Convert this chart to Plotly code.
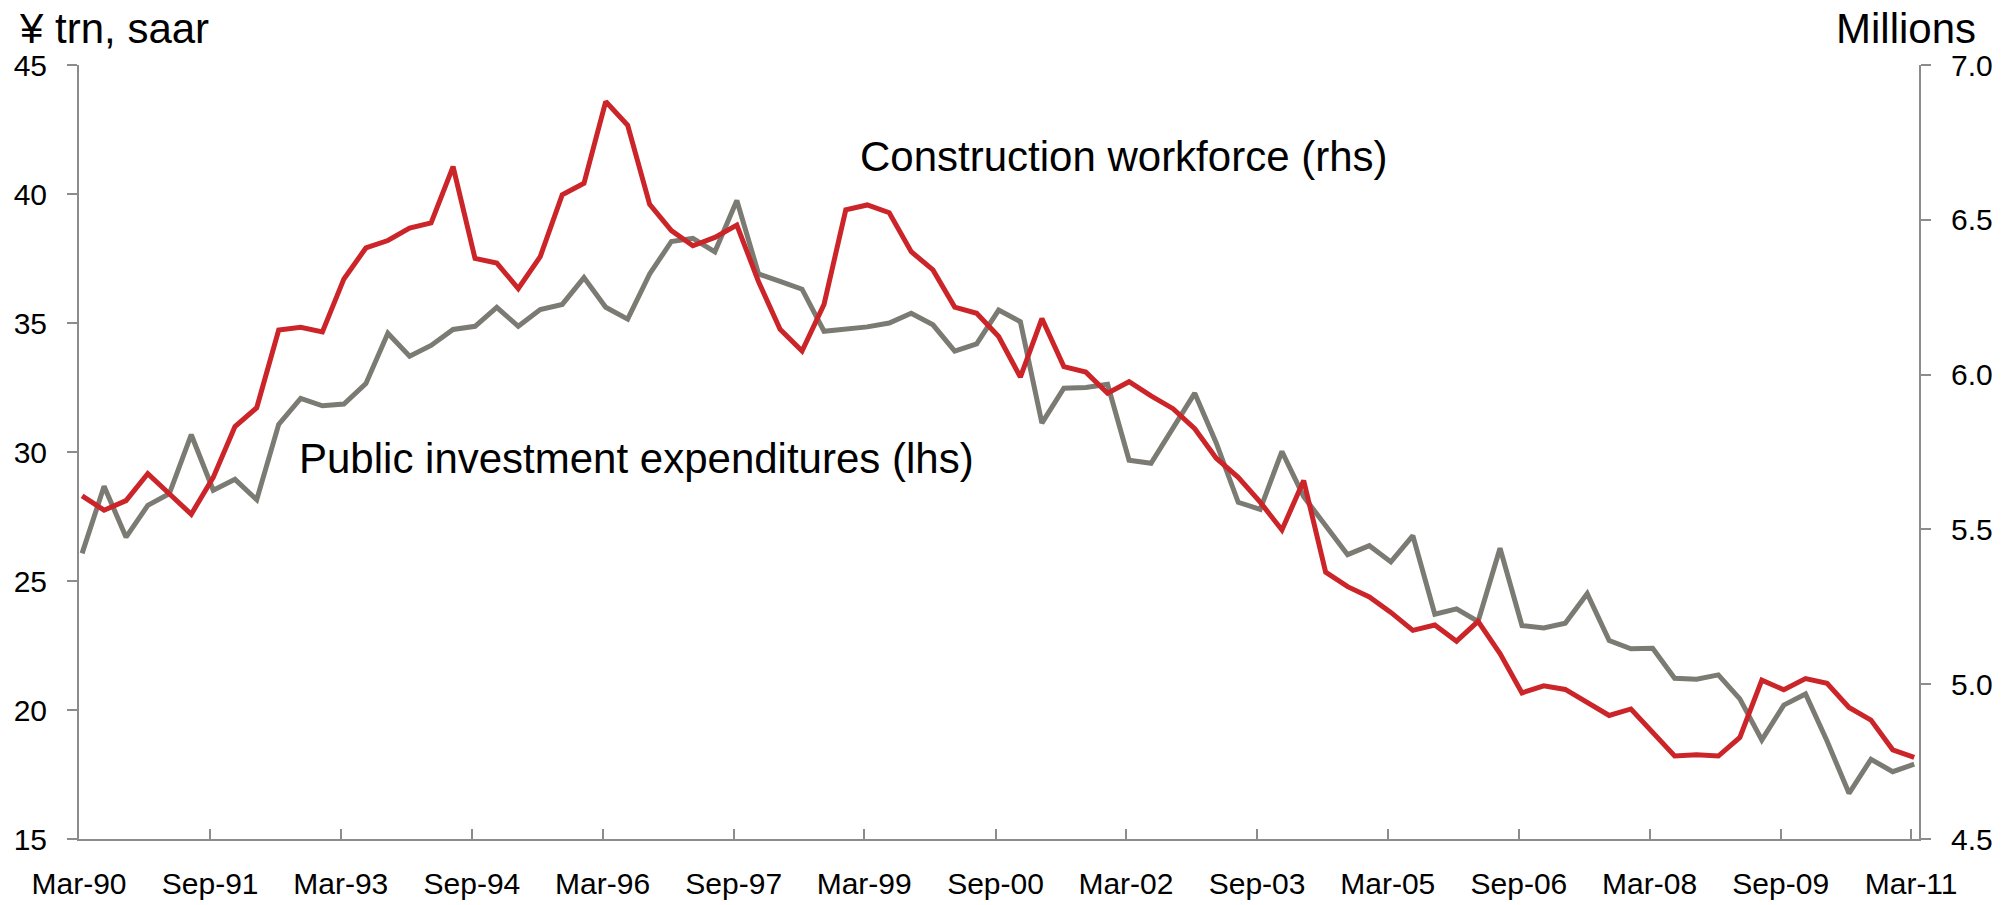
import pandas as pd
import plotly.graph_objects as go

# Quarterly dates, Mar-90 .. Mar-11
quarter_start = "1990-03-01"
n_quarters = 85

# Public investment expenditures, yen trillion saar (lhs)
public_investment = [
    26.07, 28.67, 26.70, 27.93, 28.38, 30.67, 28.52, 28.94, 28.15, 31.07,
    32.08, 31.79, 31.86, 32.65, 34.60, 33.71, 34.13, 34.75, 34.87, 35.61,
    34.87, 35.52, 35.72, 36.76, 35.61, 35.15, 36.90, 38.16, 38.28, 37.76,
    39.75, 36.90, 36.61, 36.31, 34.68, 34.78, 34.85, 35.00, 35.38, 34.93,
    33.91, 34.19, 35.50, 35.05, 31.12, 32.47, 32.50, 32.62, 29.68, 29.56,
    30.90, 32.28, 30.35, 28.05, 27.78, 30.02, 28.27, 27.13, 26.02, 26.37,
    25.74, 26.76, 23.71, 23.92, 23.43, 26.27, 23.27, 23.18, 23.36, 24.51,
    22.69, 22.37, 22.39, 21.23, 21.19, 21.36, 20.43, 18.84, 20.19, 20.62,
    18.80, 16.77, 18.09, 17.61, 17.90,
]

# Construction workforce, millions (rhs)
construction_workforce = [
    5.608, 5.562, 5.593, 5.680, 5.615, 5.549, 5.668, 5.832, 5.893, 6.144,
    6.153, 6.138, 6.309, 6.409, 6.433, 6.473, 6.490, 6.672, 6.375, 6.360,
    6.278, 6.381, 6.581, 6.618, 6.882, 6.805, 6.550, 6.465, 6.416, 6.443,
    6.483, 6.300, 6.146, 6.076, 6.227, 6.532, 6.548, 6.523, 6.397, 6.338,
    6.218, 6.198, 6.123, 5.992, 6.181, 6.026, 6.008, 5.940, 5.977, 5.931,
    5.890, 5.825, 5.730, 5.668, 5.588, 5.498, 5.658, 5.362, 5.315, 5.282,
    5.232, 5.174, 5.191, 5.139, 5.203, 5.099, 4.972, 4.995, 4.983, 4.943,
    4.899, 4.920, 4.847, 4.768, 4.772, 4.768, 4.828, 5.013, 4.982, 5.018,
    5.003, 4.925, 4.884, 4.788, 4.764,
]

tick_every_months = 18

dates = pd.date_range(quarter_start, periods=n_quarters, freq="3MS") + pd.Timedelta(days=13)
tick_dates = pd.date_range(quarter_start, "2011-03-01", freq=f"{tick_every_months}MS")
tick_labels = [d.strftime("%b-%y") for d in tick_dates]

RED = "#CC2529"
GREY = "#7B7B73"
AXIS = "#8C8C8C"
FONT = "Liberation Sans, Arial, sans-serif"

fig = go.Figure()
fig.add_trace(go.Scatter(
    x=dates, y=public_investment, mode="lines", yaxis="y",
    line=dict(color=GREY, width=5), name="Public investment expenditures (lhs)",
))
fig.add_trace(go.Scatter(
    x=dates, y=construction_workforce, mode="lines", yaxis="y2",
    line=dict(color=RED, width=5), name="Construction workforce (rhs)",
))

common_axis = dict(
    tickwidth=2, tickcolor=AXIS, ticklen=10,
    showline=True, linecolor=AXIS, linewidth=2,
    showgrid=False, zeroline=False, automargin=False,
    tickfont=dict(size=30),
)

fig.update_layout(
    width=2014, height=905,
    margin=dict(l=79, r=95, t=65, b=66, autoexpand=False),
    paper_bgcolor="white", plot_bgcolor="white",
    showlegend=False,
    font=dict(family=FONT, size=30, color="black"),
    xaxis=dict(
        range=[pd.Timestamp("1990-03-01"), pd.Timestamp("2011-04-03")],
        tickmode="array", tickvals=tick_dates, ticktext=tick_labels,
        ticks="inside", ticklabelstandoff=17, **common_axis,
    ),
    yaxis=dict(
        range=[15, 45], dtick=5, tick0=15,
        ticks="outside", ticklabelstandoff=14, **common_axis,
    ),
    yaxis2=dict(
        range=[4.5, 7.0], dtick=0.5, tick0=4.5, tickformat=".1f",
        overlaying="y", side="right", anchor="x",
        ticks="outside", ticklabelstandoff=14, **common_axis,
    ),
    annotations=[
        dict(text="¥ trn, saar", xref="paper", yref="paper", x=-0.0337, y=1.047,
             xanchor="left", yanchor="middle", showarrow=False, font=dict(size=42)),
        dict(text="Millions", xref="paper", yref="paper", x=1.0321, y=1.047,
             xanchor="right", yanchor="middle", showarrow=False, font=dict(size=42)),
        dict(text="Construction workforce (rhs)", xref="paper", yref="paper",
             x=0.4234, y=0.8824, xanchor="left", yanchor="middle",
             showarrow=False, font=dict(size=42)),
        dict(text="Public investment expenditures (lhs)", xref="paper", yref="paper",
             x=0.1183, y=0.4910, xanchor="left", yanchor="middle",
             showarrow=False, font=dict(size=42)),
    ],
)

fig.write_html(
    "out.html",
    config={"displayModeBar": False},
    post_script="document.body.style.margin='0';document.body.style.overflow='hidden';",
)
